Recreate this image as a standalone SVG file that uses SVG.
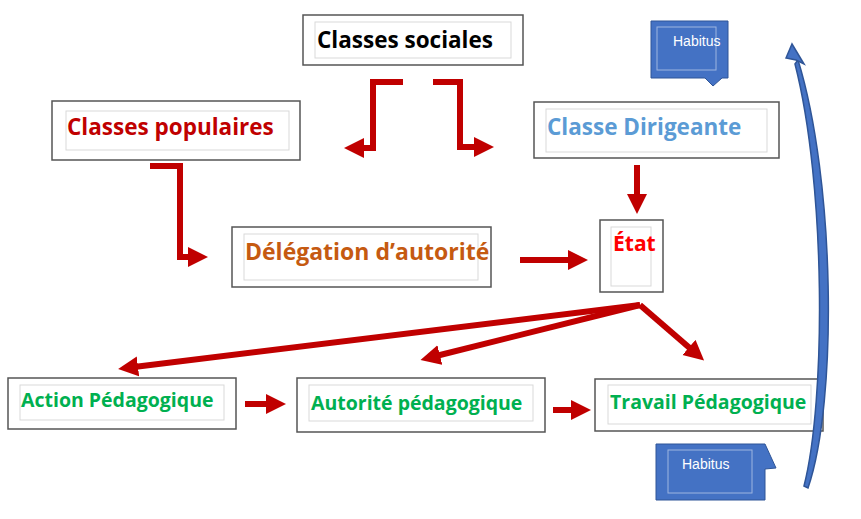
<svg xmlns="http://www.w3.org/2000/svg" width="861" height="519" viewBox="0 0 861 519">
<style>
.o{fill:#fff;stroke:#555;stroke-width:1.5}
.i{fill:none;stroke:#d9d9d9;stroke-width:1}
.t{font-family:"Open Sans","Liberation Sans",sans-serif;font-weight:bold}
.g{fill:#00b050;font-size:19.5px}
.a{fill:none;stroke:#c00000;stroke-width:6;marker-end:url(#ah)}
.hb{fill:#4472c4;stroke:#2f5597;stroke-width:1}
.hi{fill:none;stroke:#9db5e0;stroke-width:1}
.ht{font-family:"Liberation Sans",sans-serif;font-size:14px;fill:#fff}
</style>
<defs>
<marker id="ah" markerUnits="userSpaceOnUse" markerWidth="22" markerHeight="22" refX="4" refY="10" orient="auto">
<path d="M0,0 L20,10 L0,20 Z" fill="#c00000"/>
</marker>
</defs>
<g id="classes-sociales"><rect class="o" x="303" y="15" width="220" height="50"/><rect class="i" x="315" y="22" width="196" height="36"/><text class="t" x="317" y="48" font-size="22.5" fill="#000">Classes sociales</text></g>
<g id="classes-populaires"><rect class="o" x="52" y="101" width="248" height="59"/><rect class="i" x="66" y="111" width="223" height="39"/><text class="t" x="67" y="135" font-size="22.5" fill="#c00000">Classes populaires</text></g>
<g id="classe-dirigeante"><rect class="o" x="534" y="102" width="245" height="56"/><rect class="i" x="546" y="109" width="221" height="43"/><text class="t" x="547" y="135" font-size="22.5" font-weight="600" fill="#5b9bd5">Classe Dirigeante</text></g>
<g id="delegation"><rect class="o" x="232" y="227" width="259" height="60"/><rect class="i" x="244" y="234" width="234" height="46"/><text class="t" x="245" y="260" font-size="23" fill="#c55a11">Délégation d’autorité</text></g>
<g id="etat"><rect class="o" x="600" y="220" width="63" height="72"/><rect class="i" x="611" y="227" width="40" height="59"/><text class="t" x="613" y="251" font-size="21" fill="#ff0000">État</text></g>
<g id="action"><rect class="o" x="8" y="378" width="228" height="51"/><rect class="i" x="20" y="385" width="204" height="35"/><text class="t g" x="21" y="407">Action Pédagogique</text></g>
<g id="autorite"><rect class="o" x="297" y="378" width="248" height="54"/><rect class="i" x="309" y="385" width="224" height="36"/><text class="t g" x="311" y="410">Autorité pédagogique</text></g>
<g id="travail"><rect class="o" x="595" y="379" width="228" height="52"/><rect class="i" x="608" y="385" width="203" height="39"/><text class="t g" x="610" y="409">Travail Pédagogique</text></g>
<g id="habitus-top"><path class="hb" d="M651,21 H728 V78 H722 L713,86 L705,78 H651 Z"/><rect class="hi" x="657" y="27" width="59" height="43"/><text class="ht" x="673" y="46">Habitus</text></g>
<g id="habitus-bottom"><path class="hb" d="M656,444 H765 L776,468 L765,469 V500 H656 Z"/><rect class="hi" x="668" y="450" width="84" height="43"/><text class="ht" x="682" y="469">Habitus</text></g>
<g id="connectors">
<path class="a" d="M403,82 H373 V148 H360"/>
<path class="a" d="M433,82 H460 V147 H478"/>
<path class="a" d="M150,166 H180 V257 H192"/>
<path class="a" d="M520,260 H572"/>
<path class="a" d="M637,165 V198"/>
<path class="a" d="M640,305 L134,367"/>
<path class="a" d="M640,305 L436,356"/>
<path class="a" d="M640,305 L692,350"/>
<path class="a" d="M245,404 H270"/>
<path class="a" d="M553,410 H575"/>
<path d="M808,488 C838,400 835,180 798,60 L795,64 C826,185 826,400 804,486 Z" fill="#4472c4" stroke="#2f5597" stroke-width="1.5"/>
<path d="M786,58 L792,44 L804,64 L796,60 Z" fill="#4472c4" stroke="#2f5597" stroke-width="1.5"/>
</g>
</svg>
